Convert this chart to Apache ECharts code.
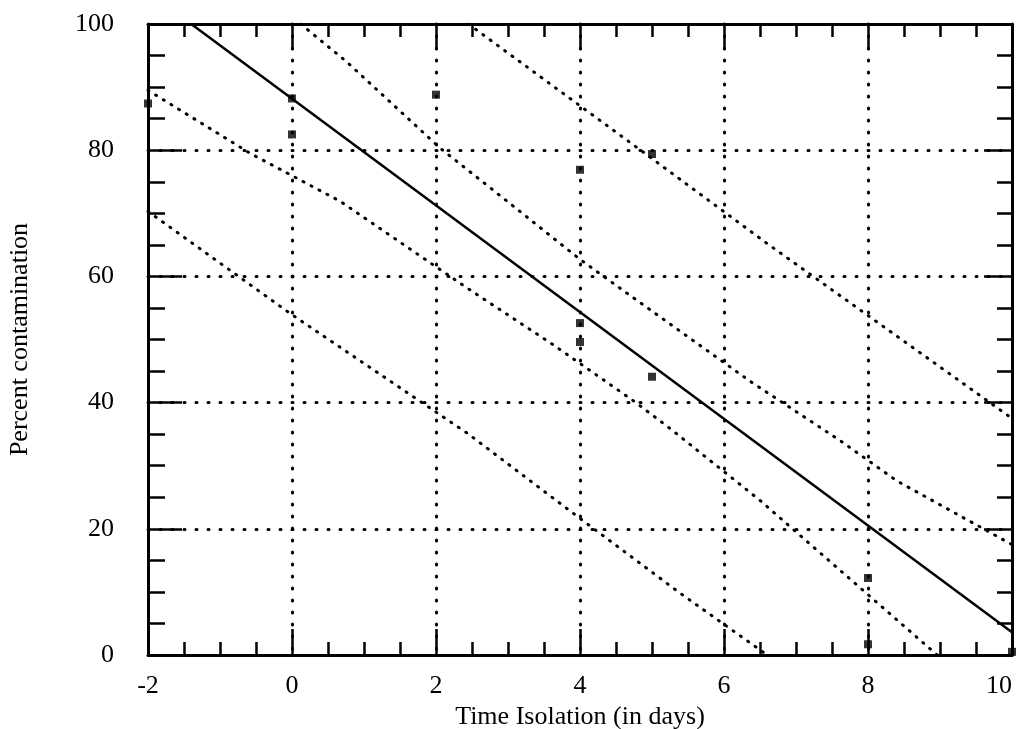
<!DOCTYPE html>
<html>
<head>
<meta charset="utf-8">
<script src="https://cdn.jsdelivr.net/npm/echarts@6/dist/echarts.min.js"></script>
<style>
    html, body { margin: 0; padding: 0; background: #fff; overflow: hidden; }
    #chart { width: 1017px; height: 729px; }
</style>
</head>
<body>
<div id="chart"></div>
<script>
// regression line (solid)
var fitDays = [-1.4, 10];
var fitPercent = [100, 3.6];

// outer band above the fit
var upperOuterDays = [2.45, 4.83, 6.6, 10];
var upperOuterPercent = [100, 80.1, 65.2, 37.5];

// inner band above the fit
var upperInnerDays = [0.12, 0.76, 2.06, 2.89, 4.0, 4.51, 6.36, 7.61, 8.4, 10];
var upperInnerPercent = [100, 94.0, 80.3, 72.8, 62.7, 58.5, 43.4, 34.0, 27.6, 17.5];

// inner band below the fit
var lowerInnerDays = [-2, -0.58, 0.67, 2.44, 3.61, 4.74, 5.25, 6.5, 8.96];
var lowerInnerPercent = [89.5, 79.5, 71.9, 58.1, 49.3, 40.3, 35.9, 24.5, 0];

// outer band below the fit
var lowerOuterDays = [-2, -0.01, 2.44, 4.04, 5.39, 6.6];
var lowerOuterPercent = [70.3, 54.0, 35.1, 21.3, 9.8, 0];

// measured samples
var sampleDays = [-2, 0, 0, 2, 4, 4, 4, 5, 5, 8, 8, 10];
var samplePercent = [87.4, 88.2, 82.5, 88.8, 76.9, 52.6, 49.6, 79.4, 44.1, 12.2, 1.7, 0.5];

function pairs(xs, ys) {
    var out = [];
    xs.forEach(function (x, i) {
        out.push([x, ys[i]]);
    });
    return out;
}

var font = 'Liberation Serif, Times New Roman, serif';
var black = '#000';
var dotted = {color: black, width: 3, type: [1, 8], cap: 'round'};
var gridDots = {color: black, width: 3, type: [1, 11], cap: 'round'};

function xAxisOf(position, primary) {
    return {
        type: 'value',
        position: position,
        min: -2,
        max: 10,
        interval: 2,
        axisLine: {show: true, onZero: false, lineStyle: {color: black, width: 3}},
        axisTick: {show: true, inside: true, length: 26, lineStyle: {color: black, width: 2.5}},
        minorTick: {show: true, splitNumber: 4, length: 13, lineStyle: {color: black, width: 2.5}},
        axisLabel: {show: primary, color: black, fontFamily: font, fontSize: 26, margin: 18, alignMaxLabel: 'right'},
        splitLine: {show: primary, showMinLine: false, showMaxLine: false, lineStyle: gridDots},
        name: primary ? 'Time Isolation (in days)' : '',
        nameLocation: 'middle',
        nameGap: 45,
        nameTextStyle: {color: black, fontFamily: font, fontSize: 26}
    };
}

function yAxisOf(position, primary) {
    return {
        type: 'value',
        position: position,
        min: 0,
        max: 100,
        interval: 20,
        axisLine: {show: true, onZero: false, lineStyle: {color: black, width: 3}},
        axisTick: {show: true, inside: true, length: primary ? 34 : 28, lineStyle: {color: black, width: 2.5}},
        minorTick: {show: true, splitNumber: 4, length: primary ? 17 : 15, lineStyle: {color: black, width: 2.5}},
        axisLabel: {show: primary, color: black, fontFamily: font, fontSize: 26, margin: 34},
        splitLine: {show: primary, showMinLine: false, showMaxLine: false, lineStyle: gridDots},
        name: primary ? 'Percent contamination' : '',
        nameLocation: 'middle',
        nameGap: 115,
        nameTextStyle: {color: black, fontFamily: font, fontSize: 26}
    };
}

function band(name, xs, ys) {
    return {
        name: name,
        type: 'line',
        data: pairs(xs, ys),
        symbol: 'none',
        lineStyle: dotted,
        z: 3
    };
}

var myChart = echarts.init(document.getElementById('chart'));
var option = {
    animation: false,
    backgroundColor: '#fff',
    grid: {left: 148, right: 5, top: 24, bottom: 74, containLabel: false, outerBoundsMode: 'none'},
    xAxis: [xAxisOf('bottom', true), xAxisOf('top', false)],
    yAxis: [yAxisOf('left', true), yAxisOf('right', false)],
    series: [
        {
            name: 'Fit',
            type: 'line',
            data: pairs(fitDays, fitPercent),
            symbol: 'none',
            lineStyle: {color: black, width: 2.5},
            z: 4
        },
        band('Upper outer', upperOuterDays, upperOuterPercent),
        band('Upper inner', upperInnerDays, upperInnerPercent),
        band('Lower inner', lowerInnerDays, lowerInnerPercent),
        band('Lower outer', lowerOuterDays, lowerOuterPercent),
        {
            name: 'Samples',
            type: 'scatter',
            data: pairs(sampleDays, samplePercent),
            symbol: 'rect',
            symbolSize: 8,
            clip: false,
            itemStyle: {color: black},
            z: 5
        }
    ]
};
myChart.setOption(option);
</script>
</body>
</html>
